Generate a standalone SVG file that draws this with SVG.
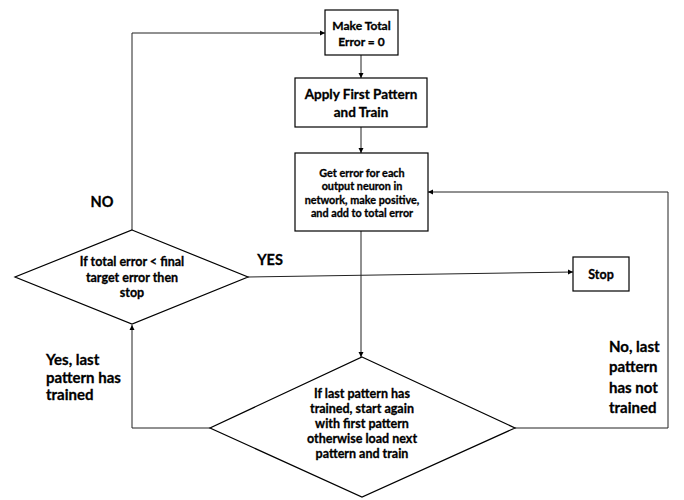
<svg xmlns="http://www.w3.org/2000/svg" width="684" height="500" viewBox="0 0 684 500">
<style>
.n{fill:#fff;stroke:#000;stroke-width:1.2}
.c{fill:none;stroke:#222;stroke-width:1}
text{font-family:Lato,"Open Sans",sans-serif;font-weight:bold;fill:#000;stroke:#000;stroke-width:0.3}
.m{text-anchor:middle;dominant-baseline:central}
.l{dominant-baseline:central}
</style>
<defs>
<marker id="a" markerWidth="6" markerHeight="6" refX="5" refY="3" orient="auto" markerUnits="userSpaceOnUse">
<path d="M0,0.5 L5,3 L0,5.5 Z" fill="#000"/>
</marker>
</defs>
<g id="connectors">
<path class="c" d="M361,55 V78" marker-end="url(#a)"/>
<path class="c" d="M361,127 V153" marker-end="url(#a)"/>
<path class="c" d="M361,231 V357" marker-end="url(#a)"/>
<path class="c" d="M132,230 V33 H325" marker-end="url(#a)"/>
<path class="c" d="M248,277 L573,272" marker-end="url(#a)"/>
<path class="c" d="M210,428 H132 V325" marker-end="url(#a)"/>
<path class="c" d="M515,428 H668 V192 H428" marker-end="url(#a)"/>
<text class="m" x="102" y="201" font-size="14.5">NO</text>
<text class="m" x="270" y="259" font-size="14.5">YES</text>
<text class="l" x="46" y="359" font-size="15">Yes, last</text>
<text class="l" x="46" y="377" font-size="15">pattern has</text>
<text class="l" x="46" y="394" font-size="15">trained</text>
<text class="l" x="609" y="346" font-size="15">No, last</text>
<text class="l" x="609" y="366" font-size="15">pattern</text>
<text class="l" x="609" y="387" font-size="15">has not</text>
<text class="l" x="609" y="407" font-size="15">trained</text>
</g>
<g id="n1">
<rect class="n" x="325" y="10" width="73" height="45"/>
<text class="m" x="361.5" y="25" font-size="12">Make Total</text>
<text class="m" x="361.5" y="41" font-size="12">Error = 0</text>
</g>
<g id="n2">
<rect class="n" x="295" y="78" width="132" height="49"/>
<text class="m" x="361" y="94" font-size="13.5">Apply First Pattern</text>
<text class="m" x="361" y="112" font-size="13.5">and Train</text>
</g>
<g id="n3">
<rect class="n" x="295" y="153" width="133" height="78"/>
<text class="m" x="362" y="172" font-size="10.8">Get error for each</text>
<text class="m" x="362" y="185" font-size="10.8">output neuron in</text>
<text class="m" x="362" y="199" font-size="10.8">network, make positive,</text>
<text class="m" x="362" y="212" font-size="10.8">and add to total error</text>
</g>
<g id="n4">
<polygon class="n" points="132,230 248,277 132,324 15,277"/>
<text class="m" x="132" y="261" font-size="12.5">If total error &lt; final</text>
<text class="m" x="132" y="277" font-size="12.5">target error then</text>
<text class="m" x="132" y="292" font-size="12.5">stop</text>
</g>
<g id="n5">
<rect class="n" x="573" y="257" width="56" height="34"/>
<text class="m" x="601" y="274" font-size="12.5">Stop</text>
</g>
<g id="n6">
<polygon class="n" points="362,357 515,428 362,497 210,428"/>
<text class="m" x="362" y="393" font-size="12.5">If last pattern has</text>
<text class="m" x="362" y="408" font-size="12.5">trained, start again</text>
<text class="m" x="362" y="423" font-size="12.5">with first pattern</text>
<text class="m" x="362" y="438" font-size="12.5">otherwise load next</text>
<text class="m" x="362" y="453" font-size="12.5">pattern and train</text>
</g>
</svg>
